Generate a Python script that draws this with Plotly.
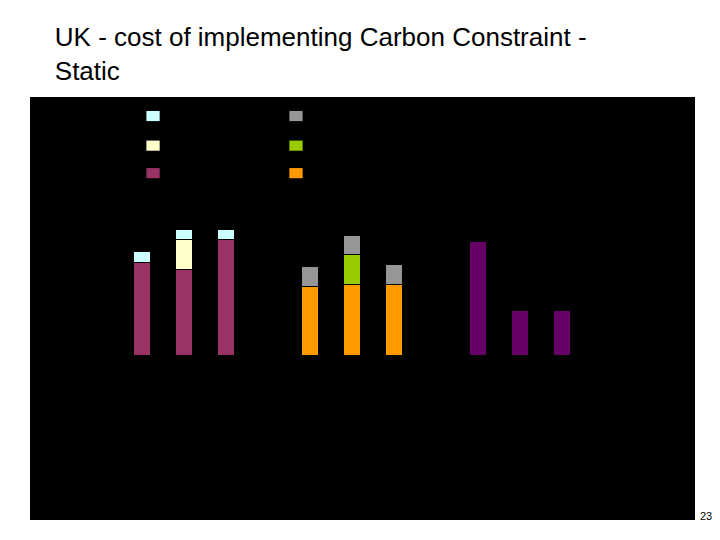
import plotly.graph_objects as go

# -----------------------------
# Bar positions (three groups of three) and stacked segment values
# -----------------------------
x_pos = [0, 1, 2, 4, 5, 6, 8, 9, 10]

maroon = [93, 86, 116, 0, 0, 0, 0, 0, 0]
pale_yellow = [0, 30, 0, 0, 0, 0, 0, 0, 0]
light_blue = [11, 10, 10, 0, 0, 0, 0, 0, 0]
orange = [0, 0, 0, 69, 71, 71, 0, 0, 0]
green = [0, 0, 0, 0, 30, 0, 0, 0, 0]
grey = [0, 0, 0, 20, 19, 20, 0, 0, 0]
purple = [0, 0, 0, 0, 0, 0, 114, 45, 45]

series = [
    ("maroon", maroon, "#993366"),
    ("pale", pale_yellow, "#FFFFCC"),
    ("blue", light_blue, "#CCFFFF"),
    ("orange", orange, "#FF9900"),
    ("green", green, "#99CC00"),
    ("grey", grey, "#969696"),
    ("purple", purple, "#660066"),
]

fig = go.Figure()
for name, vals, col in series:
    fig.add_trace(go.Bar(
        x=x_pos, y=vals, name=name, marker_color=col,
        marker_line_color="black", marker_line_width=1,
        width=0.4, showlegend=False,
    ))

# legend swatches (text is black on black in the original)
legend_boxes = [
    (0.175, 0.955, "#CCFFFF"), (0.175, 0.885, "#FFFFCC"), (0.175, 0.82, "#993366"),
    (0.39, 0.955, "#969696"), (0.39, 0.885, "#99CC00"), (0.39, 0.82, "#FF9900"),
]
for lx, ly, col in legend_boxes:
    fig.add_shape(type="rect", xref="paper", yref="paper",
                  x0=lx, x1=lx + 0.02, y0=ly - 0.012, y1=ly + 0.012,
                  fillcolor=col, line_width=0)

fig.update_layout(
    barmode="stack",
    width=720, height=540,
    paper_bgcolor="white", plot_bgcolor="black",
    margin=dict(l=22, r=33, t=89, b=28),
    font=dict(family="Liberation Sans, Arial", color="black"),
    title=dict(
        text="UK - cost of implementing Carbon Constraint -<br>Static",
        x=0.065, xanchor="left", y=0.93, yanchor="top",
        font=dict(size=26, color="black"),
    ),
    xaxis=dict(range=[-2.67, 13.17], visible=False),
    yaxis=dict(range=[-165, 258], visible=False),
    annotations=[dict(text="23", xref="paper", yref="paper", x=1.017, y=0.01,
                      xanchor="center", yanchor="middle", showarrow=False,
                      font=dict(size=11, color="black"))],
)

fig.write_html("out.html")
